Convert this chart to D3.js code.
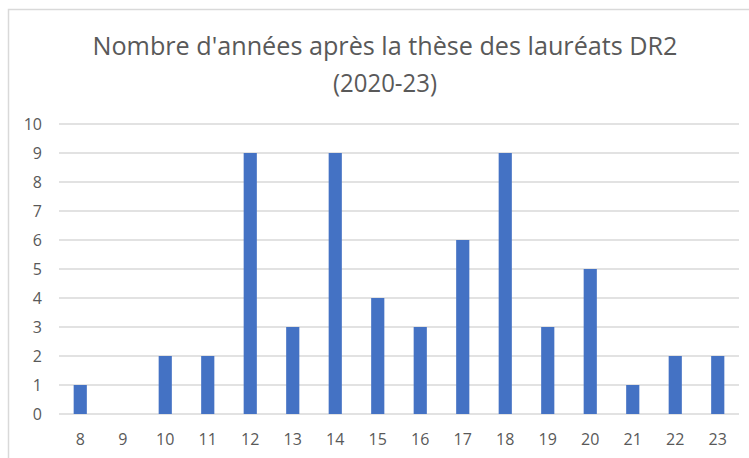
<!DOCTYPE html>
<html><head><meta charset="utf-8">
<script src="https://cdn.jsdelivr.net/npm/d3@7"></script>
<style>body{margin:0;background:#fff}svg{display:block}</style>
</head><body>
<script>
const titleLines = ["Nombre d'années après la thèse des lauréats DR2", "(2020-23)"];
const categories = ["8","9","10","11","12","13","14","15","16","17","18","19","20","21","22","23"];
const values = [1,0,2,2,9,3,9,4,3,6,9,3,5,1,2,2];
const yTicks = [0,1,2,3,4,5,6,7,8,9,10];

const W = 749, H = 458;
const svg = d3.select("body").append("svg").attr("width", W).attr("height", H);
svg.append("rect").attr("x", 8.5).attr("y", 9.5).attr("width", W + 10).attr("height", H + 10)
  .attr("fill", "#fff").attr("stroke", "#d9d9d9").attr("stroke-width", 1.5);

const font = "'Open Sans', sans-serif";
const m = {left: 59, right: 739, top: 124, bottom: 414};
const x = d3.scaleBand().domain(categories).range([m.left, m.right]).paddingInner(0.69).paddingOuter(0.345);
const y = d3.scaleLinear().domain([0, 10]).range([m.bottom, m.top]);

// gridlines
svg.append("g").selectAll("line").data(yTicks).join("line")
  .attr("x1", m.left).attr("x2", m.right)
  .attr("y1", d => y(d)).attr("y2", d => y(d))
  .attr("stroke", "#d9d9d9").attr("stroke-width", 1.5);

// y axis labels
const yAxis = d3.axisLeft(y).tickValues(yTicks).tickSize(0).tickPadding(0).tickFormat(d3.format("d"));
const gy = svg.append("g").attr("transform", `translate(${42},0)`).call(yAxis)
  .attr("font-family", font).attr("font-size", 16);
gy.select(".domain").remove();
gy.selectAll("text").attr("fill", "#595959").attr("dy", "0.36em");

// bars
svg.append("g").selectAll("rect").data(values).join("rect")
  .attr("x", (d, i) => x(categories[i]))
  .attr("width", x.bandwidth())
  .attr("y", d => y(d))
  .attr("height", d => y(0) - y(d))
  .attr("fill", "#4472c4");

// x axis labels
const xAxis = d3.axisBottom(x).tickSize(0).tickPadding(0);
const gx = svg.append("g").attr("transform", `translate(0,${445})`).call(xAxis)
  .attr("font-family", font).attr("font-size", 16);
gx.select(".domain").remove();
gx.selectAll("text").attr("fill", "#595959").attr("dy", "0");

// title
const t = svg.append("g");
const lineY = [55, 92];
const lineW = [585, null];
titleLines.forEach((s, i) => {
  const tx = t.append("text").attr("x", 385).attr("y", lineY[i]).attr("text-anchor", "middle")
    .attr("font-family", font).attr("font-size", 26).attr("fill", "#595959").text(s);
  if (lineW[i]) tx.attr("textLength", lineW[i]).attr("lengthAdjust", "spacingAndGlyphs");
  else {
    const natural = tx.node().getComputedTextLength();
    tx.attr("textLength", natural * 0.92).attr("lengthAdjust", "spacingAndGlyphs");
  }
});
</script>
</body></html>
